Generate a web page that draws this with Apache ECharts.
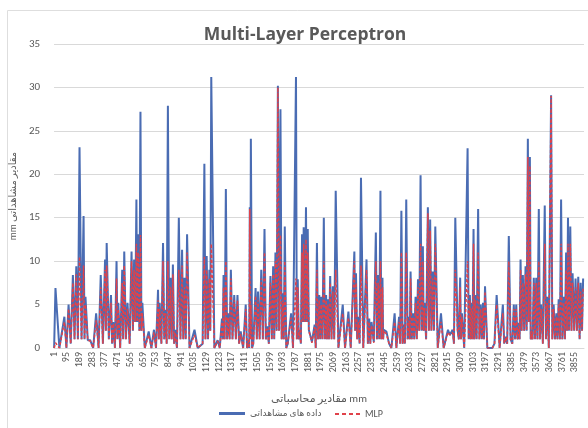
<!DOCTYPE html>
<html>
<head>
<meta charset="utf-8">
<script src="https://cdn.jsdelivr.net/npm/echarts@6/dist/echarts.min.js"></script>
<style>
  html, body { margin: 0; padding: 0; background: #fff; }
  #chart { width: 588px; height: 428px; }
</style>
</head>
<body>
<div id="chart"></div>
<script>
// number of time steps on the category axis
const stepCount = 3922;
const stepLabels = [];
for (let i = 1; i <= stepCount; i++) stepLabels.push(String(i));

// step index of each point
const steps = [
  1, 11, 40, 77, 92, 108, 124, 140, 152, 165, 177, 189,
  204, 219, 226, 233, 250, 268, 290, 312, 330, 346, 362, 378,
  384, 390, 406, 422, 430, 439, 451, 463, 470, 476, 490, 505,
  512, 520, 532, 544, 560, 574, 584, 593, 601, 610, 616, 623,
  632, 640, 647, 654, 672, 701, 721, 740, 755, 770, 776, 782,
  795, 807, 816, 824, 834, 843, 853, 863, 871, 880, 889, 897,
  910, 924, 936, 948, 957, 966, 975, 985, 1003, 1040, 1064, 1100,
  1113, 1121, 1130, 1140, 1150, 1157, 1164, 1187, 1211, 1227, 1243, 1249,
  1255, 1263, 1272, 1281, 1290, 1300, 1309, 1321, 1334, 1346, 1358, 1370,
  1382, 1400, 1419, 1429, 1439, 1445, 1449, 1453, 1457, 1466, 1475, 1492,
  1501, 1510, 1522, 1534, 1546, 1558, 1568, 1578, 1590, 1602, 1612, 1622,
  1630, 1639, 1648, 1657, 1666, 1676, 1685, 1694, 1701, 1708, 1719, 1730,
  1755, 1769, 1791, 1797, 1804, 1812, 1819, 1827, 1836, 1842, 1848, 1856,
  1865, 1871, 1878, 1886, 1909, 1929, 1937, 1946, 1954, 1963, 1970, 1977,
  1987, 1997, 2005, 2014, 2020, 2027, 2035, 2044, 2054, 2064, 2074, 2085,
  2105, 2137, 2154, 2179, 2196, 2223, 2229, 2235, 2244, 2253, 2262, 2272,
  2289, 2313, 2323, 2333, 2341, 2350, 2367, 2382, 2390, 2399, 2407, 2416,
  2423, 2431, 2436, 2441, 2460, 2480, 2497, 2521, 2534, 2554, 2562, 2571,
  2580, 2588, 2597, 2607, 2617, 2627, 2633, 2639, 2648, 2657, 2666, 2676,
  2685, 2694, 2703, 2713, 2721, 2730, 2736, 2742, 2754, 2767, 2775, 2784,
  2793, 2803, 2812, 2822, 2840, 2864, 2884, 2916, 2930, 2950, 2960, 2970,
  2987, 2996, 3006, 3012, 3019, 3036, 3061, 3069, 3078, 3084, 3090, 3097,
  3105, 3111, 3117, 3128, 3139, 3148, 3158, 3166, 3175, 3182, 3190, 3207,
  3244, 3260, 3276, 3298, 3322, 3332, 3342, 3354, 3366, 3379, 3392, 3403,
  3412, 3421, 3430, 3440, 3446, 3453, 3461, 3470, 3480, 3490, 3498, 3507,
  3514, 3522, 3528, 3534, 3542, 3551, 3560, 3569, 3578, 3588, 3596, 3605,
  3618, 3632, 3641, 3650, 3662, 3679, 3688, 3698, 3708, 3718, 3726, 3735,
  3744, 3753, 3762, 3772, 3781, 3790, 3797, 3804, 3812, 3821, 3830, 3838,
  3850, 3860, 3870, 3880, 3890, 3898, 3908, 3916
];

// observed values (mm)
const observed = [
  0, 6.9, 0, 3.6, 0, 5.0, 0.5, 8.4, 1, 9.4, 1, 23.1,
  1, 15.2, 1, 5.9, 0.9, 0.9, 0, 4.0, 0, 8.4, 0.5, 10.2,
  2, 12.1, 1, 6.1, 0.5, 3.0, 0, 10.0, 1, 5.2, 0, 9.0,
  1, 11.1, 1, 5.2, 0.5, 11.1, 2, 10.2, 3, 17.1, 3, 13.1,
  2, 27.2, 2, 5.2, 0, 1.9, 0, 2.1, 0, 6.7, 1, 5.2,
  0.5, 12.1, 1, 4.4, 0.5, 27.9, 1, 8.1, 1, 9.6, 0.5, 2.1,
  0, 15.0, 1, 11.3, 1, 8.1, 1, 13.1, 0, 2.1, 0, 0.5,
  21.2, 1, 10.6, 1, 9.0, 2, 31.2, 0, 0.9, 0, 3.4, 1,
  8.4, 1, 18.3, 1, 4.0, 1, 9.0, 1, 6.1, 1, 6.1, 0.5,
  1.9, 0, 5.0, 0, 0.9, 0, 16.2, 1, 24.1, 0, 0.5, 6.9,
  1, 6.5, 1, 9.0, 1, 13.7, 1, 2.5, 0.5, 8.3, 1, 9.4,
  1, 11.0, 2, 30.2, 2, 27.5, 1, 6.3, 1, 14.0, 0, 0.5,
  4.0, 0, 31.2, 1, 7.9, 1, 2.1, 0.5, 13.1, 3, 13.9, 3,
  16.2, 3, 13.7, 2.1, 0.7, 2.7, 0, 12.1, 1, 6.1, 1, 5.9,
  1, 15.0, 1, 6.1, 1, 5.6, 1, 8.3, 1, 7.1, 1, 18.1,
  0, 5.0, 0, 4.2, 0, 11.1, 2, 8.6, 1, 3.6, 0.5, 19.6,
  0, 10.2, 0.5, 3.4, 0.5, 3.0, 0.7, 13.3, 1, 8.4, 1, 18.1,
  1, 8.1, 1, 2.1, 1.9, 0.5, 0, 4.0, 0, 3.6, 0.5, 15.8,
  0.5, 2.7, 0.5, 17.1, 1, 3.6, 1, 8.8, 1, 4.0, 1, 5.9,
  1, 7.9, 2, 19.9, 2, 11.7, 2, 5.2, 1, 16.2, 2, 14.8,
  2, 8.8, 2, 14.0, 0, 4.0, 0, 2.1, 1.5, 2.1, 0.5, 15.0,
  2.1, 1, 8.1, 1, 4.0, 0, 23.0, 1, 6.1, 1, 5.2, 1,
  13.7, 1, 6.1, 1, 16.0, 1, 5.0, 1, 5.2, 1, 7.1, 0,
  0, 0.5, 6.1, 0, 5.0, 0.5, 1.3, 0.5, 12.9, 1.0, 0.5, 5.0,
  1, 5.0, 1, 2.9, 1, 10.2, 2, 8.4, 2, 9.4, 2, 24.1,
  3, 22.0, 1, 2.1, 1, 8.1, 1, 8.1, 1, 16.0, 1, 5.0,
  0.5, 16.4, 1, 5.9, 0, 29.1, 1, 5.0, 1, 4.0, 1, 5.6,
  1, 17.1, 1, 5.9, 1, 11.0, 2, 15.0, 2, 14.0, 2, 8.6,
  2, 8.0, 2, 8.2, 1, 7.5, 2, 8.0
];

// MLP model output (mm)
const mlp = [
  0, 0.6, 0, 3.0, 0, 4.5, 0.5, 7.5, 1, 8.5, 1, 10.5,
  1, 9.5, 1, 5.0, 0.9, 0.8, 0, 3.2, 0, 7.0, 0.5, 9.0,
  2, 9.5, 1, 5.2, 0.5, 2.8, 0, 8.0, 1, 4.5, 0, 7.5,
  1, 9.5, 1, 4.5, 0.5, 10.0, 2, 9.0, 3, 12.0, 3, 11.0,
  2, 13.0, 2, 4.0, 0, 1.5, 0, 1.8, 0, 5.5, 1, 4.5,
  0.5, 10.0, 1, 4.0, 0.5, 10.0, 1, 7.0, 1, 8.5, 0.5, 1.8,
  0, 9.0, 1, 9.5, 1, 7.0, 1, 11.0, 0, 1.5, 0, 0.5,
  10.5, 1, 9.0, 1, 8.0, 2, 12.0, 0, 0.8, 0, 3.0, 1,
  7.0, 1, 10.0, 1, 3.5, 1, 8.0, 1, 5.5, 1, 5.5, 0.5,
  1.6, 0, 4.5, 0, 0.8, 0, 16.0, 1, 5.0, 0, 0.5, 6.0,
  1, 5.5, 1, 8.0, 1, 11.0, 1, 2.2, 0.5, 7.5, 1, 8.5,
  1, 10.0, 2, 30.0, 2, 13.0, 1, 5.5, 1, 10.0, 0, 0.5,
  3.5, 0, 8.0, 1, 7.0, 1, 2.0, 0.5, 11.0, 3, 12.0, 3,
  12.5, 3, 11.0, 2.0, 0.6, 2.4, 0, 9.0, 1, 5.5, 1, 5.0,
  1, 10.0, 1, 5.5, 1, 5.0, 1, 7.5, 1, 6.5, 1, 9.0,
  0, 4.0, 0, 3.5, 0, 10.0, 2, 7.5, 1, 3.0, 0.5, 9.5,
  0, 9.0, 0.5, 3.0, 0.5, 2.6, 0.6, 10.0, 1, 7.5, 1, 10.0,
  1, 7.0, 1, 2.0, 1.6, 0.5, 0, 3.0, 0, 3.0, 0.5, 11.0,
  0.5, 2.4, 0.5, 11.0, 1, 3.2, 1, 8.0, 1, 3.6, 1, 5.2,
  1, 7.0, 2, 12.0, 2, 10.0, 2, 4.6, 1, 15.5, 2, 13.5,
  2, 8.0, 2, 12.0, 0, 3.0, 0, 1.8, 1.5, 1.8, 0.5, 9.0,
  2.0, 1, 7.0, 1, 3.6, 0, 10.0, 1, 5.5, 1, 4.6, 1,
  12.0, 1, 5.5, 1, 11.0, 1, 4.5, 1, 4.6, 1, 6.5, 0,
  0, 0.5, 5.0, 0, 4.0, 0.5, 1.2, 0.5, 10.0, 1.0, 0.5, 4.5,
  1, 4.5, 1, 2.6, 1, 9.0, 2, 7.5, 2, 8.5, 2, 22.0,
  3, 21.0, 1, 2.0, 1, 7.5, 1, 7.5, 1, 10.0, 1, 4.5,
  0.5, 12.0, 1, 5.2, 0, 29.0, 1, 4.5, 1, 3.6, 1, 5.0,
  1, 12.0, 1, 5.2, 1, 9.0, 2, 12.0, 2, 12.0, 2, 7.5,
  2, 7.0, 2, 7.5, 1, 6.5, 2, 7.0
];

const yTicks = [0, 5, 10, 15, 20, 25, 30, 35];

const obsName = 'داده های مشاهداتی';
const mlpName = 'MLP';

const textFont = 'Carlito, "Open Sans", "Noto Sans", "DejaVu Sans", sans-serif';

let chart = echarts.init(document.getElementById('chart'));

let obsData = steps.map((s, i) => [s - 1, observed[i]]);
let mlpData = steps.map((s, i) => [s - 1, mlp[i]]);

let option = {
  animation: false,
  backgroundColor: '#fff',
  title: {
    text: 'Multi-Layer Perceptron',
    left: 300,
    top: 21,
    textAlign: 'center',
    textStyle: {
      fontFamily: '"Open Sans", "Noto Sans", sans-serif',
      fontWeight: 'bold',
      fontSize: 17.5,
      color: '#595959'
    }
  },
  // light frame of the chart area (top and left edges are visible)
  graphic: [
    {
      type: 'polyline',
      shape: { points: [[7.5, 428], [7.5, 10.5], [588, 10.5]] },
      style: { fill: 'none', stroke: '#dedede', lineWidth: 1 },
      silent: true,
      z: -1
    }
  ],
  legend: [
    {
      data: [{ name: obsName, icon: 'rect' }],
      left: 214,
      top: 404,
      itemWidth: 26,
      itemHeight: 3,
      itemGap: 4,
      textStyle: { fontFamily: textFont, fontSize: 9, color: '#595959' }
    },
    {
      data: [{ name: mlpName, icon: 'path://M0,0h4v2h-4zM7,0h4v2h-4zM14,0h4v2h-4zM21,0h4v2h-4z' }],
      left: 330,
      top: 404,
      itemWidth: 25,
      itemHeight: 2,
      textStyle: { fontFamily: textFont, fontSize: 10, color: '#595959' }
    }
  ],
  grid: {
    left: 50,
    right: 4,
    top: 44,
    bottom: 80
  },
  xAxis: {
    type: 'category',
    data: stepLabels,
    boundaryGap: true,
    name: 'مقادیر محاسباتی mm',
    nameLocation: 'middle',
    nameGap: 46,
    nameTextStyle: { fontFamily: textFont, fontSize: 11, color: '#595959' },
    axisLine: { show: true, lineStyle: { color: '#d9d9d9' } },
    axisTick: { show: false },
    axisLabel: {
      interval: 93,
      rotate: 90,
      margin: 4,
      fontFamily: textFont,
      fontSize: 10,
      color: '#595959'
    },
    splitLine: { show: false }
  },
  yAxis: {
    type: 'value',
    min: yTicks[0],
    max: yTicks[yTicks.length - 1],
    interval: 5,
    name: 'mm مقادیر مشاهداتی',
    nameLocation: 'middle',
    nameRotate: 90,
    nameGap: 31,
    nameTextStyle: { fontFamily: textFont, fontSize: 10, color: '#595959' },
    axisLine: { show: false },
    axisTick: { show: false },
    axisLabel: {
      margin: 14,
      fontFamily: textFont,
      fontSize: 11,
      color: '#595959'
    },
    splitLine: { lineStyle: { color: '#d9d9d9', width: 1 } }
  },
  series: [
    {
      name: obsName,
      type: 'line',
      data: obsData,
      symbol: 'none',
      itemStyle: { color: '#4a6cb3' },
      lineStyle: { color: '#4a6cb3', width: 2 }
    },
    {
      name: mlpName,
      type: 'line',
      data: mlpData,
      symbol: 'none',
      itemStyle: { color: '#e0424a' },
      lineStyle: { color: '#e0424a', width: 1.5, type: [3, 2] }
    }
  ]
};

chart.setOption(option);
</script>
</body>
</html>
